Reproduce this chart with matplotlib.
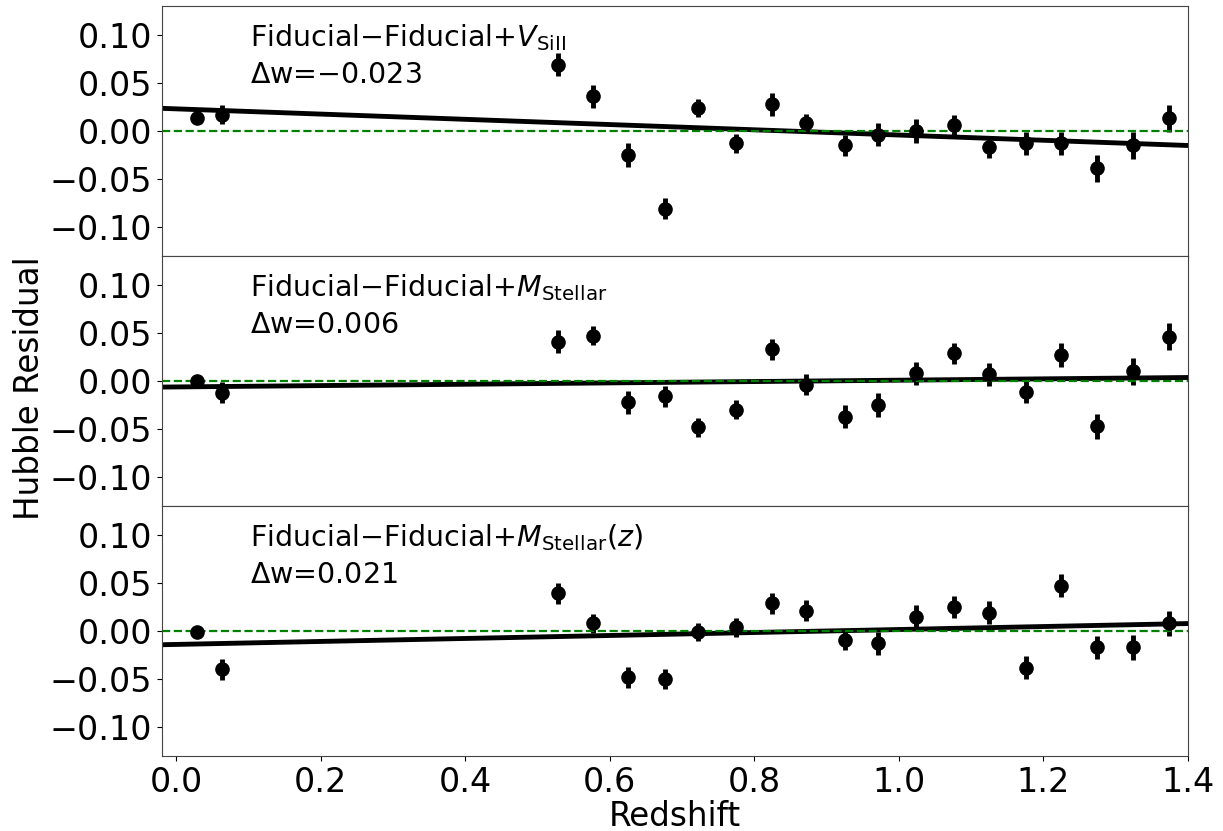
import numpy as np
import matplotlib
matplotlib.use("Agg")
from matplotlib import pyplot as plt

# redshift bin centres
z = [0.028, 0.063, 0.528, 0.577, 0.625, 0.677, 0.722, 0.775, 0.824, 0.872,
     0.926, 0.972, 1.024, 1.076, 1.125, 1.176, 1.225, 1.274, 1.325, 1.374]

# Fiducial - Fiducial+V_SiII
res_vsi = [0.014, 0.017, 0.069, 0.036, -0.025, -0.081, 0.024, -0.013, 0.028, 0.008,
           -0.015, -0.004, 0.000, 0.006, -0.017, -0.013, -0.013, -0.039, -0.015, 0.013]
err_vsi = [0.003, 0.010, 0.012, 0.012, 0.012, 0.011, 0.009, 0.010, 0.012, 0.010,
           0.011, 0.012, 0.012, 0.011, 0.011, 0.012, 0.012, 0.014, 0.014, 0.014]

# Fiducial - Fiducial+M_Stellar
res_ms = [0.000, -0.012, 0.041, 0.047, -0.022, -0.016, -0.048, -0.030, 0.033, -0.004,
          -0.037, -0.025, 0.008, 0.029, 0.007, -0.011, 0.027, -0.047, 0.010, 0.046]
err_ms = [0.003, 0.011, 0.012, 0.010, 0.012, 0.011, 0.010, 0.010, 0.011, 0.011,
          0.012, 0.012, 0.012, 0.011, 0.012, 0.012, 0.012, 0.013, 0.014, 0.014]

# Fiducial - Fiducial+M_Stellar(z)
res_msz = [-0.001, -0.040, 0.039, 0.008, -0.048, -0.050, -0.001, 0.004, 0.029, 0.021,
           -0.009, -0.013, 0.015, 0.025, 0.019, -0.038, 0.047, -0.017, -0.017, 0.008]
err_msz = [0.003, 0.011, 0.011, 0.010, 0.011, 0.010, 0.009, 0.010, 0.011, 0.011,
           0.011, 0.012, 0.012, 0.011, 0.012, 0.012, 0.012, 0.012, 0.013, 0.013]

# linear fits (slope, intercept)
fits = [(-0.0272, 0.0230), (0.0070, -0.0062), (0.0155, -0.0140)]

labels = [r'Fiducial$-$Fiducial+$V_{\mathrm{SiII}}$',
          r'Fiducial$-$Fiducial+$M_{\mathrm{Stellar}}$',
          r'Fiducial$-$Fiducial+$M_{\mathrm{Stellar}}(z)$']
dw = [r'$\Delta$w=$-$0.023', r'$\Delta$w=0.006', r'$\Delta$w=0.021']

residuals = [res_vsi, res_ms, res_msz]
errors = [err_vsi, err_ms, err_msz]

plt.rcParams['mathtext.fontset'] = 'dejavusans'

fig, axes = plt.subplots(3, 1, sharex=True, figsize=(12.23, 8.31), dpi=100)
fig.subplots_adjust(left=0.1325, right=0.971, top=0.9928, bottom=0.0903, hspace=0)

xx = np.array([-0.02, 1.4])
for i, ax in enumerate(axes):
    ax.errorbar(z, residuals[i], yerr=errors[i], fmt='o', color='k',
                markersize=9.5, elinewidth=3.5, capsize=0)
    m, b = fits[i]
    ax.plot(xx, m * xx + b, color='k', linewidth=3.5)
    ax.axhline(0, color='green', linestyle='--', linewidth=1.6)
    ax.set_ylim(-0.13, 0.13)
    ax.set_xlim(-0.02, 1.4)
    ax.set_yticks([-0.10, -0.05, 0.00, 0.05, 0.10])
    ax.tick_params(labelsize=24)
    ax.text(0.086, 0.84, labels[i], transform=ax.transAxes, fontsize=20.5,
            va='baseline')
    ax.text(0.086, 0.69, dw[i], transform=ax.transAxes, fontsize=20.5,
            va='baseline')
    for s in ax.spines.values():
        s.set_color('#444444')

axes[2].set_xticks([0.0, 0.2, 0.4, 0.6, 0.8, 1.0, 1.2, 1.4])
axes[2].set_xlabel('Redshift', fontsize=23.5, labelpad=1)
fig.text(0.0245, 0.533, 'Hubble Residual', rotation=90, fontsize=23.5,
         va='center', ha='center')

fig.savefig('out.png', dpi=100)
